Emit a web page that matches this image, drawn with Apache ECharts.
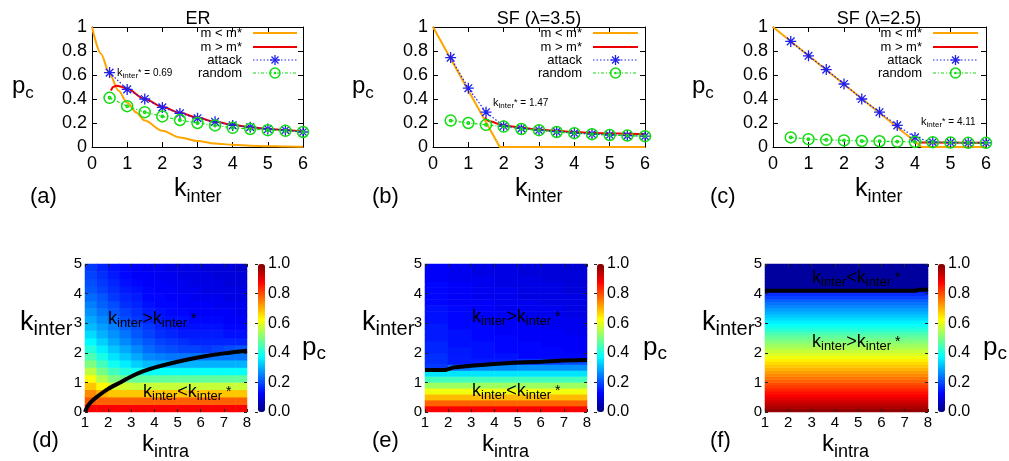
<!DOCTYPE html>
<html><head><meta charset="utf-8">
<script src="https://cdn.jsdelivr.net/npm/echarts@6/dist/echarts.min.js"></script>
<style>html,body{margin:0;padding:0;background:#fff}#c{width:1009px;height:461px}</style>
</head><body><div id="c"></div>
<script>
// ---------------- data ----------------
const kInter = [0.5,1,1.5,2,2.5,3,3.5,4,4.5,5,5.5,6];

// (a) ER
const erAttack = [0.62,0.48,0.40,0.33,0.28,0.24,0.21,0.18,0.165,0.15,0.14,0.125];
const erRandom = [0.41,0.34,0.29,0.255,0.225,0.20,0.18,0.16,0.15,0.14,0.135,0.125];
const erMinus = [[0,1],[0.25,0.78],[0.5,0.61],[0.75,0.47],[1,0.37],[1.25,0.29],[1.5,0.22],[2,0.135],[2.5,0.08],[3,0.05],[3.5,0.03],[4,0.018],[4.5,0.011],[5,0.007],[5.5,0.004],[6,0.002]];
const erPlus = [[0.54,0.47],[0.6,0.5],[0.69,0.51],[0.8,0.505],[1,0.485],[1.5,0.40],[2,0.335],[2.5,0.285],[3,0.245],[3.5,0.21],[4,0.185],[4.5,0.165],[5,0.15],[5.5,0.14],[6,0.13]];

// (b) SF lambda=3.5
const sf35Attack = [0.745,0.49,0.29,0.175,0.155,0.14,0.128,0.115,0.108,0.10,0.095,0.09];
const sf35Random = [0.22,0.20,0.185,0.17,0.15,0.14,0.125,0.115,0.107,0.10,0.095,0.09];
const sf35Minus = [[0,1],[1.89,0],[6,0]];
const sf35Plus = [[1.47,0.245],[1.6,0.215],[2,0.18],[2.5,0.16],[3,0.145],[3.5,0.135],[4,0.125],[4.5,0.118],[5,0.113],[5.5,0.11],[6,0.108]];

// (c) SF lambda=2.5
const sf25Attack = [0.88,0.76,0.645,0.525,0.40,0.29,0.18,0.08,0.04,0.037,0.035,0.035];
const sf25Random = [0.08,0.065,0.06,0.055,0.05,0.048,0.045,0.042,0.04,0.037,0.035,0.035];
const sf25Minus = [[0,1],[4.19,0],[6,0]];
const sf25Plus = [[4.11,0.037],[6,0.035]];

const legendNames = ['m < m*','m > m*','attack','random'];
const kStar = ['0.69','1.47','4.11'];

// (d) heatmap: columns k_intra centers, rows k_inter centers (bottom -> top)
const dX = ['1.25','1.75','2.25','2.75','3.25','3.75','4.25','4.75','5.25','5.75','6.25','6.75','7.25','7.75'];
const dY = ['0.125','0.375','0.625','0.875','1.125','1.375','1.625','1.875','2.125','2.375','2.625','2.875','3.125','3.375','3.625','3.875','4.125','4.375','4.625','4.875'];
const dCols = [
 [0.88,0.79,0.74,0.68,0.62,0.56,0.50,0.45,0.41,0.37,0.34,0.31,0.29,0.27,0.25,0.23,0.21,0.20,0.19,0.18],
 [0.88,0.78,0.70,0.63,0.55,0.49,0.44,0.40,0.36,0.33,0.30,0.28,0.26,0.24,0.22,0.21,0.19,0.18,0.17,0.16],
 [0.88,0.78,0.68,0.59,0.50,0.44,0.39,0.35,0.32,0.29,0.27,0.25,0.23,0.21,0.20,0.18,0.17,0.16,0.15,0.14],
 [0.88,0.78,0.68,0.58,0.48,0.41,0.36,0.32,0.29,0.26,0.24,0.22,0.20,0.19,0.17,0.16,0.15,0.14,0.13,0.13],
 [0.88,0.78,0.68,0.57,0.47,0.39,0.33,0.29,0.26,0.23,0.21,0.20,0.18,0.17,0.16,0.15,0.14,0.13,0.12,0.12],
 [0.88,0.78,0.68,0.57,0.47,0.38,0.31,0.26,0.23,0.21,0.19,0.18,0.16,0.15,0.14,0.13,0.13,0.12,0.12,0.11],
 [0.88,0.78,0.68,0.57,0.47,0.38,0.30,0.25,0.21,0.19,0.17,0.16,0.15,0.14,0.13,0.13,0.12,0.12,0.11,0.11],
 [0.88,0.78,0.68,0.57,0.47,0.38,0.30,0.24,0.20,0.18,0.16,0.15,0.14,0.13,0.13,0.12,0.12,0.11,0.11,0.10],
 [0.88,0.78,0.68,0.57,0.47,0.38,0.30,0.24,0.19,0.17,0.15,0.14,0.14,0.13,0.12,0.12,0.11,0.11,0.10,0.10],
 [0.88,0.78,0.68,0.57,0.47,0.38,0.30,0.24,0.19,0.16,0.15,0.14,0.13,0.12,0.12,0.11,0.11,0.10,0.10,0.10],
 [0.88,0.78,0.68,0.57,0.47,0.38,0.30,0.24,0.18,0.16,0.15,0.14,0.13,0.12,0.12,0.11,0.10,0.10,0.10,0.09],
 [0.88,0.78,0.68,0.57,0.47,0.38,0.30,0.24,0.19,0.16,0.15,0.14,0.13,0.12,0.11,0.11,0.10,0.10,0.09,0.09],
 [0.88,0.78,0.68,0.57,0.47,0.38,0.30,0.24,0.20,0.16,0.14,0.13,0.12,0.12,0.11,0.10,0.10,0.09,0.09,0.09],
 [0.88,0.78,0.68,0.57,0.47,0.38,0.30,0.24,0.21,0.16,0.14,0.13,0.12,0.11,0.11,0.10,0.10,0.09,0.09,0.08]
];
const dLine = [[1,0],[1.1,0.17],[1.25,0.33],[1.5,0.5],[2,0.78],[2.5,0.99],[3,1.2],[3.5,1.37],[4,1.5],[5,1.7],[6,1.86],[7,1.98],[8,2.07]];

// (e) heatmap
const eX = ['1.5','2.5','3.5','4.5','5.5','6.5','7.5'];
const eY = ['0.1','0.3','0.5','0.7','0.9','1.1','1.3','1.5','1.7','1.9','2.1','2.3','2.5','2.7','2.9','3.1','3.3','3.5','3.7','3.9','4.1','4.3','4.5','4.7','4.9'];
const eCols = [
 [0.88,0.78,0.69,0.61,0.53,0.44,0.35,0.18,0.17,0.17,0.16,0.16,0.15,0.15,0.15,0.14,0.14,0.14,0.13,0.13,0.13,0.13,0.12,0.12,0.12],
 [0.88,0.78,0.69,0.61,0.53,0.44,0.35,0.24,0.15,0.15,0.15,0.14,0.14,0.14,0.13,0.13,0.13,0.13,0.12,0.12,0.12,0.12,0.11,0.11,0.11],
 [0.88,0.78,0.69,0.61,0.53,0.44,0.35,0.26,0.15,0.14,0.14,0.14,0.13,0.13,0.13,0.12,0.12,0.12,0.12,0.11,0.11,0.11,0.11,0.10,0.10],
 [0.88,0.78,0.69,0.61,0.53,0.44,0.35,0.26,0.15,0.14,0.13,0.13,0.13,0.12,0.12,0.12,0.12,0.11,0.11,0.11,0.11,0.10,0.10,0.10,0.10],
 [0.88,0.78,0.69,0.61,0.53,0.44,0.35,0.27,0.17,0.13,0.13,0.13,0.12,0.12,0.12,0.11,0.11,0.11,0.11,0.10,0.10,0.10,0.10,0.09,0.09],
 [0.88,0.78,0.69,0.61,0.53,0.44,0.35,0.27,0.19,0.13,0.13,0.12,0.12,0.12,0.11,0.11,0.11,0.11,0.10,0.10,0.10,0.10,0.09,0.09,0.09],
 [0.88,0.78,0.69,0.61,0.53,0.44,0.35,0.27,0.20,0.13,0.12,0.12,0.12,0.11,0.11,0.11,0.10,0.10,0.10,0.10,0.09,0.09,0.09,0.09,0.08]
];
const eLine = [[1,1.42],[1.9,1.42],[2.2,1.5],[3,1.56],[4,1.62],[5,1.67],[6,1.7],[7,1.74],[8,1.76]];

// (f) heatmap (uniform along k_intra)
const fX = ['4.5'];
const fY = ['0.05','0.15','0.25','0.35','0.45','0.55','0.65','0.75','0.85','0.95','1.05','1.15','1.25','1.35','1.45','1.55','1.65','1.75','1.85','1.95','2.05','2.15','2.25','2.35','2.45','2.55','2.65','2.75','2.85','2.95','3.05','3.15','3.25','3.35','3.45','3.55','3.65','3.75','3.85','3.95','4.05','4.15','4.25','4.35','4.45','4.55','4.65','4.75','4.85','4.95'];
const fCols = [
 [0.98,0.96,0.94,0.92,0.90,0.88,0.86,0.84,0.82,0.80,0.78,0.76,0.74,0.72,0.70,0.68,0.66,0.64,0.61,0.59,0.57,0.55,0.53,0.51,0.49,0.47,0.45,0.42,0.40,0.38,0.36,0.34,0.32,0.30,0.28,0.26,0.24,0.22,0.19,0.17,0.15,0.03,0.03,0.03,0.03,0.03,0.03,0.03,0.03,0.03]
];
const fLine = [[1,4.1],[7.5,4.1],[7.6,4.13],[8,4.13]];

// ---------------- styling / building ----------------
const FONT = '"Liberation Sans", Arial, Helvetica, sans-serif';
const JET = ['#00007f','#0000ff','#007fff','#00ffff','#7fff7f','#ffff00','#ff7f00','#ff0000','#7f0000'];
const ORANGE = '#ffa500', RED = '#ee0000', BLUE = '#2020ee', GREEN = '#11dd11';
const STAR = 'path://M0 5L10 5M5 0L5 10M1.5 1.5L8.5 8.5M1.5 8.5L8.5 1.5';
const RING = 'path://M10 5A5 5 0 1 1 0 5A5 5 0 1 1 10 5ZM6.1 5A1.1 1.1 0 1 1 3.9 5A1.1 1.1 0 1 1 6.1 5Z';

const grid = [], xAxis = [], yAxis = [], series = [], visualMap = [], graphic = [];

function addGrid(l, t, w, h) {
  grid.push({left: l, top: t, width: w, height: h, containLabel: false, outerBoundsMode: 'none'});
  return grid.length - 1;
}
function axisV(gi, pos, min, max, interval, showLabel, fs, margin, tickLen, z, lineShow, tickColor) {
  return {gridIndex: gi, type: 'value', position: pos, min: min, max: max, interval: interval, z: z || 0,
    axisLine: {show: lineShow !== false, onZero: false, lineStyle: {color: '#000', width: 1}},
    axisTick: {show: true, inside: true, length: tickLen, lineStyle: {color: tickColor || '#000', width: 1}},
    axisLabel: {show: showLabel, color: '#000', fontSize: fs, fontFamily: FONT, margin: margin, showMinLabel: true, showMaxLabel: true},
    splitLine: {show: false}, minorTick: {show: false}};
}

const mctx = document.createElement('canvas').getContext('2d');
function tw(t, s) { mctx.font = s + 'px ' + FONT; return mctx.measureText(t).width; }
function rt(x, base, parts, align) {
  const total = parts.reduce((a, p) => a + tw(p[0], p[1]), 0);
  let cx = align === 'center' ? x - total / 2 : (align === 'right' ? x - total : x);
  parts.forEach(p => {
    const s = p[1], dy = p[2] || 0;
    graphic.push({type: 'text', z: 100, silent: true, x: cx, y: base + dy - 0.35 * s,
      style: {text: p[0], font: s + 'px ' + FONT, fill: p[3] || '#000', textAlign: 'left', textVerticalAlign: 'middle', align: 'left', verticalAlign: 'middle'}});
    cx += tw(p[0], s);
  });
}

function topPanel(left, width, minus, plus, attack, random, smoothMinus) {
  const gi = addGrid(left, 27, width, 120);
  const xi = xAxis.push(axisV(gi, 'bottom', 0, 6, 1, true, 18, 8, 5)) - 1;
  xAxis.push(axisV(gi, 'top', 0, 6, 1, false, 18, 8, 5));
  const yi = yAxis.push(axisV(gi, 'left', 0, 1, 0.2, true, 18, 5, 5)) - 1;
  yAxis.push(axisV(gi, 'right', 0, 1, 0.2, false, 18, 5, 5));
  const b = {xAxisIndex: xi, yAxisIndex: yi, silent: true, animation: false};
  series.push(Object.assign({type: 'line', data: minus, symbol: 'none', smooth: smoothMinus ? 0.3 : false, smoothMonotone: 'x', lineStyle: {color: ORANGE, width: 2}}, b));
  series.push(Object.assign({type: 'line', data: plus, symbol: 'none', smooth: 0.3, smoothMonotone: 'x', lineStyle: {color: RED, width: 2}}, b));
  series.push(Object.assign({type: 'line', data: kInter.map((k, i) => [k, attack[i]]), symbol: STAR, symbolSize: 11, showAllSymbol: true,
    lineStyle: {color: BLUE, width: 1.2, type: [1.5, 2]}, itemStyle: {color: BLUE, borderColor: BLUE, borderWidth: 1.3}}, b));
  series.push(Object.assign({type: 'line', data: kInter.map((k, i) => [k, random[i]]), symbol: RING, symbolSize: 11, showAllSymbol: true,
    lineStyle: {color: GREEN, width: 1.2, type: [3, 2, 1, 2]}, itemStyle: {color: 'rgba(0,0,0,0)', borderColor: GREEN, borderWidth: 1.5}}, b));
}

function legend(textRight, x1, x2) {
  const rows = [33, 47, 60, 73];
  const cx = (x1 + x2) / 2;
  rows.forEach((y, i) => rt(textRight, y + 4.5, [[legendNames[i], 13]], 'right'));
  graphic.push({type: 'line', z: 100, silent: true, shape: {x1: x1, y1: rows[0], x2: x2, y2: rows[0]}, style: {stroke: ORANGE, lineWidth: 2}});
  graphic.push({type: 'line', z: 100, silent: true, shape: {x1: x1, y1: rows[1], x2: x2, y2: rows[1]}, style: {stroke: RED, lineWidth: 2}});
  graphic.push({type: 'line', z: 100, silent: true, shape: {x1: x1, y1: rows[2], x2: x2, y2: rows[2]}, style: {stroke: BLUE, lineWidth: 1.2, lineDash: [1.5, 2]}});
  const y3 = rows[2];
  [[-5, 0, 5, 0], [0, -5, 0, 5], [-3.5, -3.5, 3.5, 3.5], [-3.5, 3.5, 3.5, -3.5]].forEach(s =>
    graphic.push({type: 'line', z: 101, silent: true, shape: {x1: cx + s[0], y1: y3 + s[1], x2: cx + s[2], y2: y3 + s[3]}, style: {stroke: BLUE, lineWidth: 1.3}}));
  graphic.push({type: 'line', z: 100, silent: true, shape: {x1: x1, y1: rows[3], x2: x2, y2: rows[3]}, style: {stroke: GREEN, lineWidth: 1.2, lineDash: [3, 2, 1, 2]}});
  graphic.push({type: 'circle', z: 101, silent: true, shape: {cx: cx, cy: rows[3], r: 5}, style: {stroke: GREEN, fill: 'none', lineWidth: 1.5}});
  graphic.push({type: 'circle', z: 101, silent: true, shape: {cx: cx, cy: rows[3], r: 1.3}, style: {fill: GREEN}});
}

function cells(cols) { const out = []; cols.forEach((col, i) => col.forEach((v, j) => out.push([i, j, v]))); return out; }

function heatPanel(left, width, cbLeft, xCats, yCats, cols, boundary, smooth) {
  const gc = addGrid(left, 264, width, 148);
  const cx = xAxis.push({gridIndex: gc, type: 'category', data: xCats, show: false}) - 1;
  const cy = yAxis.push({gridIndex: gc, type: 'category', data: yCats, show: false}) - 1;
  const gv = addGrid(left, 264, width, 148);
  const vx = xAxis.push(axisV(gv, 'bottom', 1, 8, 1, true, 15, 3, 3, 5, false, '#222')) - 1;
  xAxis.push(axisV(gv, 'top', 1, 8, 1, false, 15, 3, 3, 5, false, '#222'));
  const vy = yAxis.push(axisV(gv, 'left', 0, 5, 1, true, 15, 3, 3, 5, false, '#222')) - 1;
  yAxis.push(axisV(gv, 'right', 0, 5, 1, false, 15, 3, 3, 5, false, '#222'));
  const si = series.push({type: 'heatmap', xAxisIndex: cx, yAxisIndex: cy, data: cells(cols), silent: true, z: 1,
    itemStyle: {borderWidth: 0}, emphasis: {disabled: true}, progressive: 0, animation: false}) - 1;
  series.push({type: 'line', xAxisIndex: vx, yAxisIndex: vy, data: boundary, smooth: smooth ? 0.3 : false, symbol: 'none',
    lineStyle: {color: '#000', width: 4}, silent: true, z: 3, animation: false});
  const gcb = addGrid(cbLeft, 264, 7, 148);
  xAxis.push({gridIndex: gcb, type: 'value', show: false, min: 0, max: 1});
  yAxis.push({gridIndex: gcb, type: 'value', position: 'right', min: 0, max: 1, interval: 0.2, z: 5,
    axisLine: {show: false}, axisTick: {show: true, inside: true, length: 3, lineStyle: {color: '#222'}},
    axisLabel: {color: '#000', fontSize: 16, fontFamily: FONT, margin: 3, showMinLabel: true, showMaxLabel: true, formatter: v => v.toFixed(1)},
    splitLine: {show: false}});
  visualMap.push({type: 'continuous', seriesIndex: si, min: 0, max: 1, left: cbLeft, top: 264, itemWidth: 7, itemHeight: 148,
    padding: 0, calculable: false, hoverLink: false, text: null, showLabel: false, orient: 'vertical', inRange: {color: JET}});
}

// top row
topPanel(92, 211, erMinus, erPlus, erAttack, erRandom, true);
topPanel(433, 212, sf35Minus, sf35Plus, sf35Attack, sf35Random, false);
topPanel(773, 213, sf25Minus, sf25Plus, sf25Attack, sf25Random, false);
legend(242, 253, 297);
legend(582, 593, 638);
legend(922, 933, 978);

// bottom row
heatPanel(85, 162, 258, dX, dY, dCols, dLine, true);
heatPanel(425, 162, 597, eX, eY, eCols, eLine, false);
heatPanel(765, 163, 938, fX, fY, fCols, fLine, false);

// texts: titles
rt(198, 25, [['ER', 18]], 'center');
rt(539, 25, [['SF (λ=3.5)', 18]], 'center');
rt(879, 25, [['SF (λ=2.5)', 18]], 'center');
// top axis names
[12, 352, 692].forEach(x => rt(x, 95, [['p', 24], ['c', 17, 4]]));
[174, 515, 855].forEach(x => rt(x, 198, [['k', 25], ['inter', 18, 5]]));
[['(a)', 30], ['(b)', 372], ['(c)', 710]].forEach(p => rt(p[1], 205, [[p[0], 22]]));
// k_inter* annotations
[[117, 77], [493, 107], [921, 126]].forEach((p, i) => rt(p[0], p[1], [['k', 11], ['inter', 8, 2], ['*', 9, -1], [' = ' + kStar[i], 10]]));
// bottom axis names
[20, 362, 702].forEach(x => rt(x, 332, [['k', 27], ['inter', 20, 4]]));
[302, 643, 983].forEach(x => rt(x, 357, [['p', 26], ['c', 19, 3]]));
[142, 482, 822].forEach(x => rt(x, 453, [['k', 24], ['intra', 18, 5]]));
[['(d)', 32], ['(e)', 372], ['(f)', 710]].forEach(p => rt(p[1], 449, [[p[0], 22]]));
// region annotations
function ann(x, base, op) { rt(x, base, [['k', 18], ['inter', 13, 3], [op, 18], ['k', 18], ['inter', 13, 3], [' *', 14, -1]]); }
ann(108, 325, '>'); ann(143, 398, '<');
ann(472, 323, '>'); ann(472, 397, '<');
ann(812, 284, '<'); ann(812, 348, '>');

const chart = echarts.init(document.getElementById('c'), null, {renderer: 'canvas'});
chart.setOption({animation: false, backgroundColor: '#fff', grid: grid, xAxis: xAxis, yAxis: yAxis,
  series: series, visualMap: visualMap, graphic: graphic});
</script>
</body></html>
